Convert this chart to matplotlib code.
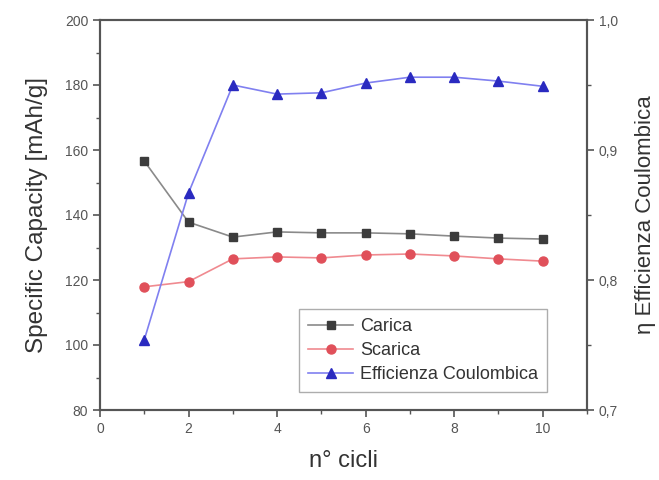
import matplotlib.pyplot as plt
from matplotlib.ticker import MultipleLocator, FuncFormatter

plt.rcParams['font.family'] = ['Liberation Sans', 'DejaVu Sans']

# === data ===
cicli = [1, 2, 3, 4, 5, 6, 7, 8, 9, 10]
carica = [156.6, 137.8, 133.2, 134.8, 134.5, 134.5, 134.2, 133.5, 132.9, 132.6]
scarica = [117.9, 119.5, 126.5, 127.1, 126.8, 127.7, 128.0, 127.4, 126.5, 125.8]
efficienza = [0.754, 0.867, 0.950, 0.943, 0.944, 0.9515, 0.956, 0.956, 0.953, 0.949]

spine_col = '#555555'
tick_col = '#555555'

fig = plt.figure(figsize=(6.59, 4.8), dpi=100)
ax = fig.add_axes([100/659, 70/480, 487/659, 390/480])
ax2 = ax.twinx()

l1, = ax.plot(cicli, carica, marker='s', markersize=5.5, color='#8a8a8a', lw=1.2,
              markerfacecolor='#3c3c3c', markeredgecolor='#3c3c3c', label='Carica')
l2, = ax.plot(cicli, scarica, marker='o', markersize=6.5, color='#f08a90', lw=1.2,
              markerfacecolor='#e0505a', markeredgecolor='#e0505a', label='Scarica')
l3, = ax2.plot(cicli, efficienza, marker='^', markersize=6.5, color='#8080f0', lw=1.2,
               markerfacecolor='#2a2ac0', markeredgecolor='#2a2ac0', label='Efficienza Coulombica')

ax.set_xlim(0, 11)
ax.set_ylim(80, 200)
ax2.set_ylim(0.7, 1.0)

ax.set_xticks([0, 2, 4, 6, 8, 10])
ax.xaxis.set_minor_locator(MultipleLocator(1))
ax.set_yticks([80, 100, 120, 140, 160, 180, 200])
ax.yaxis.set_minor_locator(MultipleLocator(10))
ax2.set_yticks([0.7, 0.8, 0.9, 1.0])
ax2.yaxis.set_minor_locator(MultipleLocator(0.05))
ax2.yaxis.set_major_formatter(FuncFormatter(lambda v, p: f'{v:.1f}'.replace('.', ',')))

for a in (ax, ax2):
    for s in a.spines.values():
        s.set_color(spine_col)
        s.set_linewidth(1.5)
    a.tick_params(which='major', direction='out', length=5, width=1.2,
                  colors=spine_col, labelcolor=tick_col, labelsize=10)
    a.tick_params(which='minor', direction='out', length=3, width=1.0, colors=spine_col)

ax.set_xlabel('n° cicli', fontsize=17, color='#333333', labelpad=10)
ax.set_ylabel('Specific Capacity [mAh/g]', fontsize=17.5, color='#333333', labelpad=12)
ax2.set_ylabel('η Efficienza Coulombica', fontsize=16, color='#333333', labelpad=12)

leg = ax.legend(handles=[l1, l2, l3], loc='lower left', bbox_to_anchor=(0.39, 0.022),
                fontsize=13, frameon=True, fancybox=False, handlelength=2.5,
                borderpad=0.5, labelspacing=0.4, handletextpad=0.4)
leg.get_frame().set_edgecolor('#999999')
leg.get_frame().set_linewidth(1.0)
for t in leg.get_texts():
    t.set_color('#333333')

plt.savefig('out.png', dpi=100)
